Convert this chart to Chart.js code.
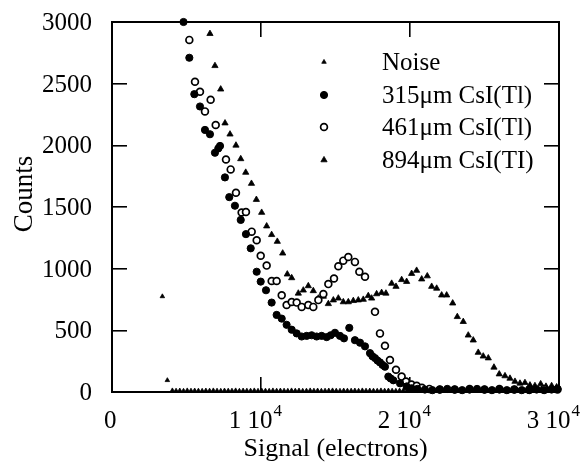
<!DOCTYPE html>
<html>
<head>
<meta charset="utf-8">
<title>CsI(Tl) signal spectra</title>
<style>body { margin: 0; background: #fff; }</style>
<script src="https://cdn.jsdelivr.net/npm/chart.js"></script>
</head>
<body>
<canvas id="spectra" width="586" height="465"></canvas>
<script>
// values: x = signal (electrons), y = counts
const noiseSpikes = [[3380,775],[3715,95]];
const noiseBinStart = 4050, noiseBinWidth = 250;
const noiseCounts = [12,10,11,9,12,10,11,10,9,11,10,12,10,9,11,10,10,12,9,11,10,10,12,9,11,10,9,12,10,11,10,9,
12,10,11,9,10,12,10,11,9,10,11,12,10,9,11,10,10,11,9,12,10,11,10,9,12,10,11,10,9,11,12,10,10,9,11,10,12,10,9,11,
11,10,12,9,10,11,10,12,9,11,10,10,12,9,11,10,10,12,11,9,10,11,12,10,11,9,10,12,10,11,9,10];
const csi315 = [[4800,3000],[5190,2710],[5525,2415],[5905,2315],[6240,2125],[6575,2090],[6910,1940],[7135,1975],
[7250,1995],[7580,1740],[7870,1580],[8250,1510],[8640,1395],[8990,1280],[9310,1165],[9710,975],[9980,895],
[10335,825],[10715,725],[11050,625],[11390,595],[11720,545],[12060,505],[12395,475],[12730,450],[13065,455],
[13400,460],[13735,450],[14070,455],[14405,445],[14675,460],[14965,480],[15300,455],[15570,435],[15925,520],
[16305,420],[16645,400],[16980,370],[17315,315],[17480,290],[17650,275],[17820,255],[17985,240],[18150,220],
[18320,205],[18545,125],[18700,110],[18880,95],[19330,70],[19775,45],[20100,30],[20500,25],[21000,20],[21500,15],
[22000,20],[22500,25],[23000,20],[23500,15],[24000,20],[24500,25],[25000,20],[25500,15],[26000,20],[26500,15],
[27000,20],[27500,15],[28000,15],[28500,20],[29000,15],[29500,20],[29900,25]];
const csi461 = [[5190,2855],[5570,2515],[5905,2435],[6240,2275],[6620,2370],[6960,2165],[7650,1885],[7965,1805],
[8320,1615],[8700,1455],[8990,1460],[9375,1300],[9710,1230],[9980,1105],[10380,1025],[10715,900],[11050,900],
[11390,785],[11720,705],[12060,730],[12395,725],[12730,690],[13175,705],[13510,690],[13850,745],[14185,795],
[14520,875],[14900,920],[15190,1020],[15525,1065],[15860,1095],[16305,1055],[16600,975],[16980,935],[17650,650],
[17985,475],[18320,375],[18655,260],[19060,180],[19440,125],[19730,85],[20100,60],[20450,50],[20800,35],[21300,25],
[22000,20],[23000,20],[24000,25],[25000,20],[26000,25],[27000,20],[28000,20],[29000,25],[29900,20]];
const csi894 = [[6575,2905],[6910,2645],[7295,2455],[7585,2180],[7920,2090],[8320,2000],[8640,1890],[8975,1780],
[9360,1690],[9690,1560],[10045,1455],[10380,1345],[10715,1275],[11095,1220],[11455,1125],[11765,955],[12060,925],
[12505,800],[12840,825],[13175,860],[13510,820],[13850,760],[14185,775],[14520,715],[14855,745],[15190,760],
[15525,730],[15860,730],[16195,740],[16530,745],[16865,750],[17200,780],[17425,760],[17760,795],[18095,805],
[18385,800],[18770,880],[19060,855],[19440,910],[19775,895],[20110,960],[20445,985],[20785,915],[21160,940],
[21455,855],[21790,840],[22125,785],[22460,785],[22865,720],[23175,610],[23575,570],[23910,460],[24245,420],
[24580,320],[24915,290],[25255,275],[25635,200],[25990,145],[26375,130],[26710,110],[27045,85],[27380,70],
[27715,75],[28050,55],[28385,50],[28770,65],[29125,45],[29505,50],[29840,40]];
const seriesLabels = ['Noise', '315\u03bcm CsI(Tl)', '461\u03bcm CsI(Tl)', '894\u03bcm CsI(TI)'];
const xTickValues = [0, 10000, 20000, 30000];
const yTickValues = [0, 500, 1000, 1500, 2000, 2500, 3000];
const xMax = 30000, yMax = 3000;

const serif = "'Liberation Serif', serif";
const toXY = arr => arr.map(p => ({x: p[0], y: p[1]}));
const noiseData = toXY(noiseSpikes).concat(noiseCounts.map((c, i) => ({x: noiseBinStart + i * noiseBinWidth, y: c})));

const markers = [
    {style: 'triangle', r: 2.6, fill: '#000', bw: 0.8},
    {style: 'circle', r: 3.6, fill: '#000', bw: 1},
    {style: 'circle', r: 3.4, fill: '#fff', bw: 1.7},
    {style: 'triangle', r: 3.6, fill: '#000', bw: 0.8}
];
const makeSet = (i, data) => ({
    label: seriesLabels[i], data: data, showLine: false, clip: false,
    pointStyle: markers[i].style, pointRadius: markers[i].r,
    pointBackgroundColor: markers[i].fill, pointBorderColor: '#000', pointBorderWidth: markers[i].bw
});

// one axis of the box: border line plus ticks pointing into the plot
function boxAxis(position, max, step, size) {
    const horizontal = position === 'top' || position === 'bottom';
    return {
        type: 'linear', position: position, min: 0, max: max,
        grid: { display: true, drawOnChartArea: false, drawTicks: true, tickLength: -15, color: '#000', lineWidth: 1.6 },
        border: { display: true, color: '#000', width: 2 },
        ticks: { display: false, stepSize: step, padding: 0 },
        afterFit: s => { if (horizontal) s.height = size; else s.width = size; }
    };
}

const decorations = {
    id: 'decorations',
    afterDraw(chart) {
        const ctx = chart.ctx, a = chart.chartArea;
        const w = a.right - a.left, h = a.bottom - a.top;
        const yPix = v => Math.round(a.bottom - v / yMax * h);
        const xPix = v => Math.round(a.left + v / xMax * w);
        ctx.save();
        ctx.fillStyle = '#000';
        // y tick labels
        ctx.font = '25px ' + serif;
        ctx.textAlign = 'right';
        ctx.textBaseline = 'middle';
        yTickValues.forEach(v => ctx.fillText(String(v), 92, yPix(v) + 1));
        // x tick labels such as "1 10" with a raised 4
        ctx.textAlign = 'left';
        ctx.textBaseline = 'alphabetic';
        xTickValues.forEach(v => {
            const px = xPix(v);
            ctx.font = '25px ' + serif;
            if (v === 0) {
                ctx.fillText('0', px - 8, 428);
                return;
            }
            const main = (v / 10000) + ' 10';
            const w1 = ctx.measureText(main).width;
            const start = px - (w1 + 9) / 2 - 6;
            ctx.fillText(main, start, 428);
            ctx.font = '17px ' + serif;
            ctx.fillText('4', start + w1 + 1, 416);
        });
        ctx.textAlign = 'center';
        ctx.font = '26px ' + serif;
        ctx.fillText('Signal (electrons)', (a.left + a.right) / 2, 456);
        ctx.save();
        ctx.translate(32, 194);
        ctx.rotate(-Math.PI / 2);
        ctx.font = '27px ' + serif;
        ctx.fillText('Counts', 0, 0);
        ctx.restore();
        // key
        ctx.font = '25px ' + serif;
        ctx.textAlign = 'left';
        ctx.textBaseline = 'middle';
        [62, 95, 127, 160].forEach((ky, i) => {
            const m = markers[i];
            ctx.fillStyle = m.fill;
            ctx.strokeStyle = '#000';
            ctx.lineWidth = m.bw;
            Chart.helpers.drawPoint(ctx, {pointStyle: m.style, radius: m.r, rotation: 0, borderWidth: m.bw}, 324, ky);
            ctx.fillStyle = '#000';
            ctx.fillText(seriesLabels[i], 382, ky + 1);
        });
        ctx.restore();
    }
};

new Chart(document.getElementById('spectra'), {
    type: 'scatter',
    data: { datasets: [makeSet(0, noiseData), makeSet(1, toXY(csi315)), makeSet(2, toXY(csi461)), makeSet(3, toXY(csi894))] },
    options: {
        responsive: false,
        animation: false,
        devicePixelRatio: 1,
        layout: { padding: { top: 22, right: 27 } },
        plugins: { legend: { display: false }, tooltip: { enabled: false } },
        scales: {
            x: boxAxis('bottom', xMax, 10000, 73),
            x2: boxAxis('top', xMax, 10000, 0),
            y: boxAxis('left', yMax, 500, 112),
            y2: boxAxis('right', yMax, 500, 0)
        }
    },
    plugins: [decorations]
});
</script>
</body>
</html>
